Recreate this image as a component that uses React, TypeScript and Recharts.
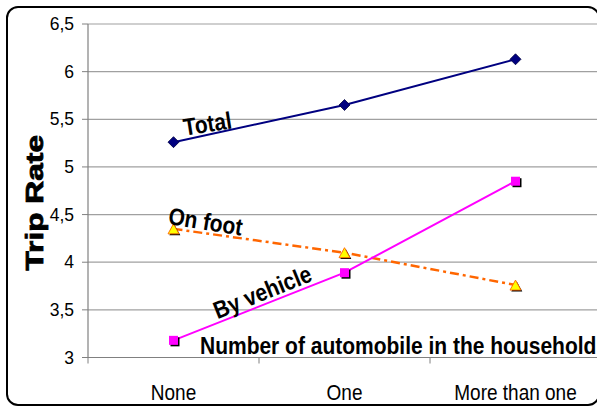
import React from 'react';
import { LineChart, Line, XAxis, YAxis, CartesianGrid, LabelList } from 'recharts';

const categories = ['None', 'One', 'More than one'];
const totalValues = [5.26, 5.65, 6.13];
const vehicleValues = [3.18, 3.89, 4.85];
const footValues = [4.35, 4.1, 3.76];
const yTicks = [3, 3.5, 4, 4.5, 5, 5.5, 6, 6.5];
const seriesNames = ['Total', 'By vehicle', 'On foot'];
const xTitle = 'Number of automobile in the household';
const yTitle = 'Trip Rate';

const data = categories.map((c, i) => ({
  category: c,
  total: totalValues[i],
  vehicle: vehicleValues[i],
  foot: footValues[i],
}));

const FONT = '"Liberation Sans", Arial, sans-serif';
const CHART_W = 610;
const CHART_H = 408;
const MARGIN = { top: 24, right: 9, left: 28, bottom: 0 };
const Y_AXIS_W = 60;
const PLOT_W = CHART_W - MARGIN.left - MARGIN.right - Y_AXIS_W;
const BAND = PLOT_W / categories.length;

const Diamond = (props: any) => {
  const { cx, cy } = props;
  if (cx == null || cy == null) return null;
  const r = 5.5;
  return (
    <polygon
      points={`${cx},${cy - r} ${cx + r},${cy} ${cx},${cy + r} ${cx - r},${cy}`}
      fill="#000080"
      stroke="#000040"
      strokeWidth={0.8}
    />
  );
};

const Square = (props: any) => {
  const { cx, cy } = props;
  if (cx == null || cy == null) return null;
  const s = 9;
  return (
    <g>
      <rect x={cx - s / 2 + 1.5} y={cy - s / 2 + 1.5} width={s} height={s} fill="#000" />
      <rect x={cx - s / 2} y={cy - s / 2} width={s} height={s} fill="#FF00FF" />
    </g>
  );
};

const Triangle = (props: any) => {
  const { cx, cy } = props;
  if (cx == null || cy == null) return null;
  const w = 5.5;
  const h = 10;
  const pts = (dx: number, dy: number) =>
    `${cx + dx},${cy - h / 2 + dy} ${cx + w + dx},${cy + h / 2 + dy} ${cx - w + dx},${cy + h / 2 + dy}`;
  return (
    <g>
      <polygon points={pts(1.3, 1.3)} fill="#000" />
      <polygon points={pts(0, 0)} fill="#FFFF00" stroke="#FF6600" strokeWidth={0.9} />
    </g>
  );
};

const makeSeriesLabel = (text: string, dx: number, dy: number, angle: number) => (p: any) => {
  if (p.index !== 0) return null;
  const x = p.x ?? p.viewBox?.x;
  const y = p.y ?? p.viewBox?.y;
  if (x == null || y == null) return null;
  return (
    <text
      transform={`translate(${x + dx},${y + dy}) rotate(${angle}) scale(1,1.15)`}
      textAnchor="middle"
      dominantBaseline="central"
      fontFamily={FONT}
      fontWeight="bold"
      fontSize={21}
      fill="#000"
    >
      {text}
    </text>
  );
};

const XTick = (props: any) => {
  const { x, y, payload, index } = props;
  const axisY = y - 8;
  return (
    <g>
      <line x1={x - BAND / 2} y1={axisY} x2={x - BAND / 2} y2={axisY + 6} stroke="#808080" strokeWidth={1} />
      {index === categories.length - 1 && (
        <line x1={x + BAND / 2} y1={axisY} x2={x + BAND / 2} y2={axisY + 6} stroke="#808080" strokeWidth={1} />
      )}
      <text
        transform={`translate(${x},${axisY + 42}) scale(1,1.18)`}
        textAnchor="middle"
        fontFamily={FONT}
        fontSize={19}
        fill="#000"
      >
        {payload.value}
      </text>
    </g>
  );
};

const XTitle = (props: any) => {
  const vb = props.viewBox || {};
  return (
    <text
      transform={`translate(${vb.x + 112},${vb.y - 3.5}) scale(1,1.13)`}
      textAnchor="start"
      fontFamily={FONT}
      fontWeight="bold"
      fontSize={21}
      fill="#000"
    >
      {xTitle}
    </text>
  );
};

const YTitle = (props: any) => {
  const vb = props.viewBox || {};
  const cx = vb.x + 15;
  const cy = vb.y + vb.height / 2 + 12;
  return (
    <text
      transform={`translate(${cx},${cy}) scale(1,1.32) rotate(-90)`}
      textAnchor="middle"
      fontFamily={FONT}
      fontWeight="bold"
      fontSize={24}
      fill="#000"
      stroke="#000"
      strokeWidth={0.8}
    >
      {yTitle}
    </text>
  );
};

export default function App() {
  return (
    <div
      style={{
        position: 'fixed',
        left: 0,
        top: 0,
        width: 597,
        height: 408,
        overflow: 'hidden',
        background: '#fff',
      }}
    >
      <div
        style={{
          position: 'absolute',
          left: 6,
          top: 6,
          width: 590,
          height: 396,
          border: '2.5px solid #000',
          borderRadius: 12,
        }}
      />
      <div style={{ position: 'absolute', left: 0, top: 0 }}>
        <LineChart width={CHART_W} height={CHART_H} data={data} margin={MARGIN}>
          <CartesianGrid vertical={false} stroke="#a0a0a0" strokeWidth={1.2} />
          <XAxis
            dataKey="category"
            scale="point"
            padding={{ left: BAND / 2, right: BAND / 2 }}
            height={50.5}
            tickLine={false}
            tickSize={6}
            tickMargin={2}
            axisLine={{ stroke: '#808080', strokeWidth: 1.2 }}
            tick={<XTick />}
            interval={0}
            label={<XTitle />}
          />
          <YAxis
            width={Y_AXIS_W}
            domain={[3, 6.5]}
            ticks={yTicks}
            interval={0}
            tickSize={6}
            tickMargin={8}
            tickFormatter={(v: number) => String(v).replace('.', ',')}
            tick={{ fontSize: 17.5, fill: '#000', fontFamily: FONT }}
            tickLine={{ stroke: '#808080' }}
            axisLine={{ stroke: '#808080', strokeWidth: 1.2 }}
            label={<YTitle />}
          />
          <Line
            dataKey="total"
            name={seriesNames[0]}
            stroke="#000080"
            strokeWidth={2}
            dot={<Diamond />}
            activeDot={false}
            isAnimationActive={false}
          >
            <LabelList dataKey="total" content={makeSeriesLabel(seriesNames[0], 34, -18, -9)} />
          </Line>
          <Line
            dataKey="foot"
            name={seriesNames[2]}
            stroke="#FF6600"
            strokeWidth={2.5}
            strokeDasharray="9 4 3 4"
            dot={<Triangle />}
            activeDot={false}
            isAnimationActive={false}
          >
            <LabelList dataKey="foot" content={makeSeriesLabel(seriesNames[2], 32, -7, 9)} />
          </Line>
          <Line
            dataKey="vehicle"
            name={seriesNames[1]}
            stroke="#FF00FF"
            strokeWidth={2}
            dot={<Square />}
            activeDot={false}
            isAnimationActive={false}
          >
            <LabelList dataKey="vehicle" content={makeSeriesLabel(seriesNames[1], 89, -48, -22)} />
          </Line>
        </LineChart>
      </div>
    </div>
  );
}
